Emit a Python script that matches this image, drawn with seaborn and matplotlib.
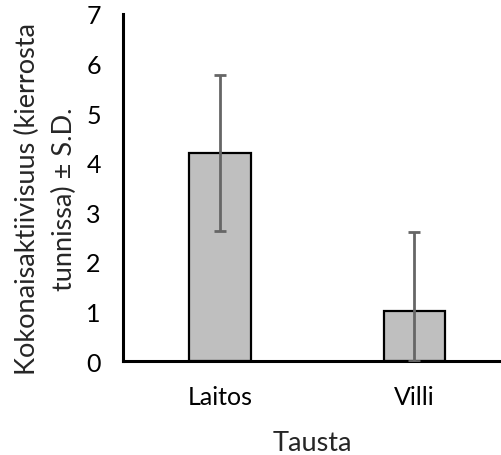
import matplotlib
matplotlib.use("Agg")
import matplotlib.pyplot as plt
import seaborn as sns
import numpy as np
import pandas as pd

categories = ["Laitos", "Villi"]
means = [4.2, 1.0]
sds = [1.57, 1.6]
yticks = [0, 1, 2, 3, 4, 5, 6, 7]

sns.set_style("white")
plt.rcParams['font.family'] = ['Lato', 'DejaVu Sans']

fig = plt.figure(figsize=(5.02, 4.56), dpi=100)
ax = fig.add_axes([123/502, 1 - 362/456, 1 - 123/502, (362 - 15)/456])

df = pd.DataFrame({"Tausta": categories, "value": means})
sns.barplot(data=df, x="Tausta", y="value", color="#bfbfbf", saturation=1,
            edgecolor="black", linewidth=1.6, width=0.316, errorbar=None, ax=ax)

lower = [min(s, m) for s, m in zip(sds, means)]
ax.errorbar(x=np.arange(len(categories)), y=means, yerr=[lower, sds], fmt="none",
            ecolor="#666666", elinewidth=2.0, capsize=4.5, capthick=2.0, zorder=5)

ax.set_xlim(-0.499, 1.45)
ax.set_ylim(0, 7)
ax.set_yticks(yticks)
ax.set_yticklabels([str(t) for t in yticks])
ax.tick_params(axis="both", length=0, labelsize=18, colors="black")
ax.tick_params(axis="y", pad=16)
ax.tick_params(axis="x", pad=17)

for s in ["top", "right"]:
    ax.spines[s].set_visible(False)
for s in ["left", "bottom"]:
    ax.spines[s].set_linewidth(2.2)
    ax.spines[s].set_color("black")

ax.set_xlabel("Tausta", fontsize=19.5, labelpad=16)
ax.set_ylabel("Kokonaisaktiivisuus (kierrosta\ntunnissa) ± S.D.", fontsize=19.5,
              linespacing=1.6)
ax.yaxis.set_label_coords(-0.121, 0.47)

fig.savefig("out.png", dpi=100)
